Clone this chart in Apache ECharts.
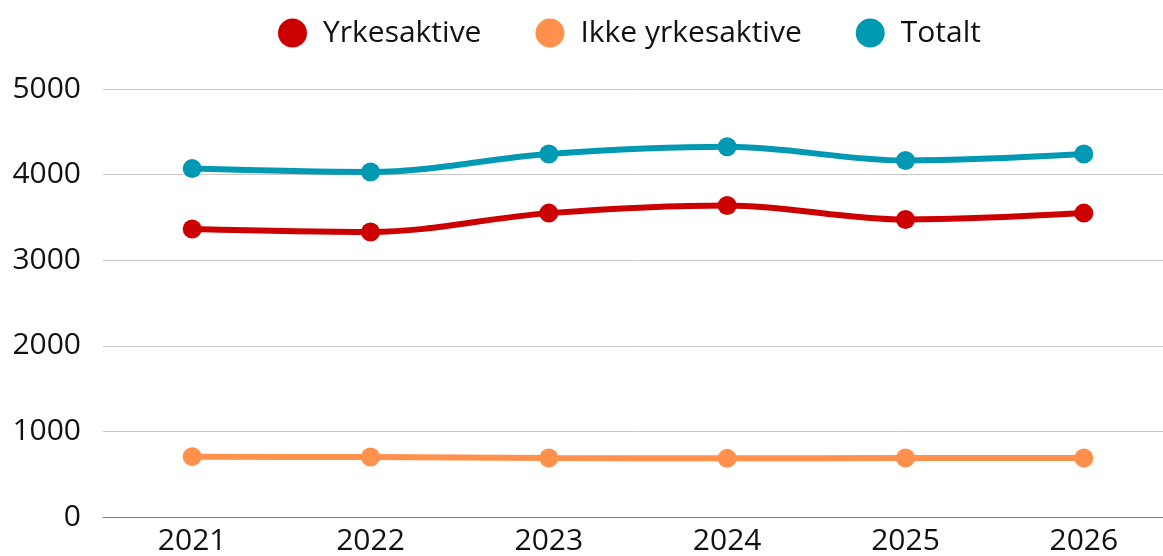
<!DOCTYPE html>
<html><head><meta charset="utf-8">
<script src="https://cdn.jsdelivr.net/npm/echarts@6/dist/echarts.min.js"></script>
<style>html,body{margin:0;padding:0;background:#fff}#c{width:1163px;height:556px}</style>
</head><body><div id="c"></div>
<script>
const years = ['2021','2022','2023','2024','2025','2026'];
const yrkesaktive = [3365, 3330, 3550, 3640, 3475, 3550];
const ikkeYrkesaktive = [705, 700, 690, 685, 690, 690];
const totalt = [4070, 4030, 4240, 4325, 4165, 4240];
const seriesNames = ['Yrkesaktive', 'Ikke yrkesaktive', 'Totalt'];
const colors = ['#cc0000', '#ff914d', '#0099b3'];

const chart = echarts.init(document.getElementById('c'), null, {renderer: 'canvas'});
const font = '"Open Sans", "Noto Sans", sans-serif';
function mk(name, data, color) {
  return {
    name, type: 'line', data, smooth: 0.35,
    symbol: 'circle', symbolSize: 19,
    lineStyle: {width: 6, color},
    itemStyle: {color},
    emphasis: {disabled: true}
  };
}
chart.setOption({
  animation: false,
  color: colors,
  legend: {
    top: 13, left: 273,
    icon: 'circle', itemWidth: 29, itemHeight: 29, itemGap: 54,
    textStyle: {fontFamily: font, fontSize: 30, color: '#111', padding: [0, 0, 0, 11]},
    data: seriesNames
  },
  grid: {left: 103, top: 89, width: 1070, height: 428, containLabel: false, outerBoundsMode: 'none'},
  xAxis: {
    type: 'category', data: years, boundaryGap: true,
    axisLine: {lineStyle: {color: '#777', width: 1}},
    axisTick: {show: false},
    axisLabel: {fontFamily: font, fontSize: 30, color: '#111', margin: 9}
  },
  yAxis: {
    type: 'value', min: 0, max: 5000, interval: 1000,
    axisLine: {show: false}, axisTick: {show: false},
    splitLine: {lineStyle: {color: '#c8c8c8', width: 1}},
    axisLabel: {fontFamily: font, fontSize: 30, color: '#111', margin: 22, formatter: v => String(v)}
  },
  series: [
    mk(seriesNames[0], yrkesaktive, colors[0]),
    mk(seriesNames[1], ikkeYrkesaktive, colors[1]),
    mk(seriesNames[2], totalt, colors[2])
  ]
});
</script></body></html>
